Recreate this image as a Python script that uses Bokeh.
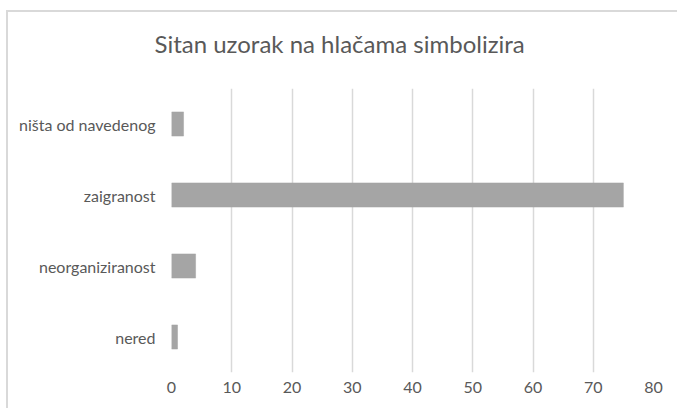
from bokeh.plotting import figure
from bokeh.models import FactorRange, Range1d, SingleIntervalTicker, Title
from bokeh.embed import file_html
from bokeh.resources import INLINE

title_text = "Sitan uzorak na hlačama simbolizira"
categories = ["nered", "neorganiziranost", "zaigranost", "ništa od navedenog"]
values = [1, 4, 75, 2]

FONT = "Lato"
TXT = "#595959"

p = figure(
    width=671, height=398,
    y_range=FactorRange(*categories, range_padding=0),
    x_range=Range1d(0, 80),
    output_backend="svg", toolbar_location=None,
    min_border_left=163, min_border_right=26,
    min_border_top=76, min_border_bottom=38,
    title=title_text,
)
p.title.align = "left"
p.title.offset = -17
p.title.vertical_align = "top"
p.title.standoff = 0
p.title.text_font = FONT
p.title.text_font_size = "24px"
p.title.text_font_style = "normal"
p.title.text_color = TXT

# empty spacer between title and plot area
p.add_layout(Title(text=" ", text_font_size="1px", standoff=26), "above")

p.outline_line_color = None
p.background_fill_color = "white"
p.border_fill_color = "white"

p.hbar(y=categories, right=values, left=0, height=0.34,
       fill_color="#A5A5A5", line_color="#A5A5A5", line_width=0.5)

p.xaxis.ticker = SingleIntervalTicker(interval=10)
for ax in (p.xaxis[0], p.yaxis[0]):
    ax.axis_line_color = None
    ax.major_tick_line_color = None
    ax.minor_tick_line_color = None
    ax.major_tick_out = 0
    ax.major_tick_in = 0
    ax.major_label_text_font = FONT
    ax.major_label_text_font_size = "16px"
    ax.major_label_text_color = TXT
p.xaxis.major_label_standoff = 5
p.yaxis.major_label_standoff = 16

p.xgrid.grid_line_color = "#D9D9D9"
p.xgrid.grid_line_width = 1.5
p.ygrid.grid_line_color = None

p.styles = {"margin-left": "6px", "margin-top": "10px",
            "border-left": "2px solid #D9D9D9", "border-top": "2px solid #D9D9D9"}

open("out.html", "w").write(file_html(p, INLINE))
